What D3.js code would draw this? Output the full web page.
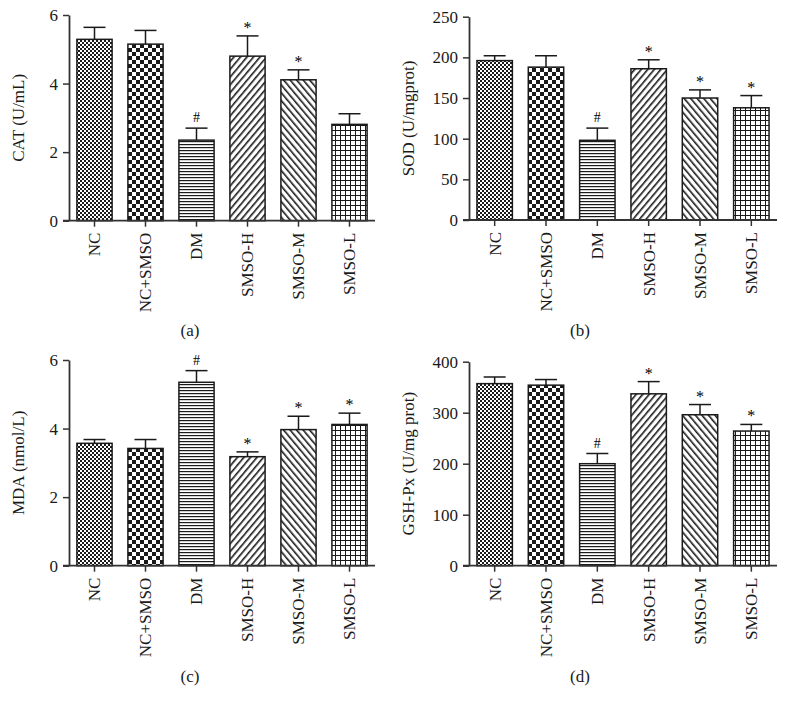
<!DOCTYPE html>
<html><head><meta charset="utf-8">
<script src="https://cdn.jsdelivr.net/npm/d3@7"></script>
<style>body{margin:0;background:#fff}svg{display:block}</style>
</head><body>
<svg id="c" width="786" height="709"></svg>
<script>
const categories = ["NC","NC+SMSO","DM","SMSO-H","SMSO-M","SMSO-L"];
const catMeans  = [5.29,5.15,2.35,4.80,4.11,2.81];
const catErrTop = [5.64,5.55,2.70,5.39,4.40,3.12];
const catMarks  = ["","","#","*","*",""];
const sodMeans  = [196,188,98,186,150,138];
const sodErrTop = [202,202,113,197,160,153];
const sodMarks  = ["","","#","*","*","*"];
const mdaMeans  = [3.57,3.42,5.35,3.18,3.97,4.12];
const mdaErrTop = [3.68,3.68,5.69,3.32,4.36,4.45];
const mdaMarks  = ["","","#","*","*","*"];
const gshMeans  = [357,354,200,337,296,264];
const gshErrTop = [370,365,220,361,316,277];
const gshMarks  = ["","","#","*","*","*"];
const catTicks = [0,2,4,6];
const sodTicks = [0,50,100,150,200,250];
const mdaTicks = [0,2,4,6];
const gshTicks = [0,100,200,300,400];

const svg = d3.select("#c");
const ink = "#1a1a1a";
const font = "'Liberation Serif','Times New Roman',serif";
const fs = 17;

// patterns
const defs = svg.append("defs");
function pat(id, w, h, build, transform){
  const p = defs.append("pattern").attr("id",id).attr("patternUnits","userSpaceOnUse")
    .attr("width",w).attr("height",h);
  if(transform) p.attr("patternTransform",transform);
  p.append("rect").attr("width",w).attr("height",h).attr("fill","#fff");
  build(p);
}
pat("pNC",4,4,p=>{p.append("rect").attr("width",2).attr("height",2).attr("fill",ink);
  p.append("rect").attr("x",2).attr("y",2).attr("width",2).attr("height",2).attr("fill",ink);});
pat("pNCS",8,8,p=>{p.append("rect").attr("width",4).attr("height",4).attr("fill",ink);
  p.append("rect").attr("x",4).attr("y",4).attr("width",4).attr("height",4).attr("fill",ink);});
pat("pDM",3,3,p=>{p.append("rect").attr("y",0).attr("width",3).attr("height",1.2).attr("fill",ink);});
pat("pH",5,5,p=>{p.append("rect").attr("width",1.6).attr("height",5).attr("fill",ink);},"rotate(40)");
pat("pM",5,5,p=>{p.append("rect").attr("width",1.6).attr("height",5).attr("fill",ink);},"rotate(-40)");
pat("pL",5,5,p=>{p.append("rect").attr("width",5).attr("height",1).attr("fill",ink);
  p.append("rect").attr("width",1).attr("height",5).attr("fill",ink);});
const fills = ["url(#pNC)","url(#pNCS)","url(#pDM)","url(#pH)","url(#pM)","url(#pL)"];

const panels = [
  {x0:69,x1:375,yTop:15,yBot:220.7,max:6,ticks:catTicks,means:catMeans,err:catErrTop,marks:catMarks,label:"CAT (U/mL)",lx:18,tag:"(a)",tx:190,ty:336},
  {x0:469,x1:777,yTop:16.7,yBot:220,max:250,ticks:sodTicks,means:sodMeans,err:sodErrTop,marks:sodMarks,label:"SOD (U/mgprot)",lx:408,tag:"(b)",tx:580,ty:336},
  {x0:69,x1:375,yTop:360,yBot:565.7,max:6,ticks:mdaTicks,means:mdaMeans,err:mdaErrTop,marks:mdaMarks,label:"MDA (nmol/L)",lx:18,tag:"(c)",tx:190,ty:682},
  {x0:469,x1:777,yTop:361.7,yBot:565.7,max:400,ticks:gshTicks,means:gshMeans,err:gshErrTop,marks:gshMarks,label:"GSH-Px (U/mg prot)",lx:408,tag:"(d)",tx:580,ty:682}
];

panels.forEach(P=>{
  const g = svg.append("g");
  const x = d3.scaleBand().domain(categories).range([P.x0,P.x1]).paddingInner(0.31).paddingOuter(0.155);
  const y = d3.scaleLinear().domain([0,P.max]).range([P.yBot,P.yTop]);
  const data = categories.map((c,i)=>({c,i,m:P.means[i],e:P.err[i],k:P.marks[i]}));

  // bars
  g.selectAll("rect.bar").data(data).join("rect").attr("class","bar")
    .attr("x",d=>x(d.c)).attr("width",x.bandwidth())
    .attr("y",d=>y(d.m)).attr("height",d=>y(0)-y(d.m))
    .attr("fill",d=>fills[d.i]).attr("stroke",ink).attr("stroke-width",1.5);
  // error bars
  const cx = d=>x(d.c)+x.bandwidth()/2;
  g.selectAll("line.ev").data(data).join("line").attr("class","ev")
    .attr("x1",cx).attr("x2",cx).attr("y1",d=>y(d.m)).attr("y2",d=>y(d.e))
    .attr("stroke",ink).attr("stroke-width",1.5);
  g.selectAll("line.ec").data(data).join("line").attr("class","ec")
    .attr("x1",d=>cx(d)-11).attr("x2",d=>cx(d)+11).attr("y1",d=>y(d.e)).attr("y2",d=>y(d.e))
    .attr("stroke",ink).attr("stroke-width",1.5);
  // marks
  g.selectAll("text.mk").data(data.filter(d=>d.k)).join("text").attr("class","mk")
    .attr("x",cx).attr("y",d=>y(d.e)-(d.k==="#"?6:3))
    .attr("text-anchor","middle").attr("font-family",font).attr("font-size",d=>d.k==="#"?14:16)
    .attr("fill","#000").text(d=>d.k);

  // y axis
  const ya = g.append("g").attr("transform",`translate(${P.x0},0)`)
    .call(d3.axisLeft(y).tickValues(P.ticks).tickFormat(d3.format("d")).tickSize(6).tickSizeOuter(0).tickPadding(5));
  ya.select(".domain").attr("stroke","#333").attr("stroke-width",1.8);
  ya.selectAll(".tick line").attr("stroke","#333").attr("stroke-width",1.5);
  ya.selectAll(".tick text").attr("font-family",font).attr("font-size",fs).attr("fill",ink);

  // x axis
  const xa = g.append("g").attr("transform",`translate(0,${P.yBot})`)
    .call(d3.axisBottom(x).tickSize(6).tickSizeOuter(0).tickPadding(0));
  xa.select(".domain").attr("d",`M${P.x0-6},0H${P.x1}`).attr("stroke","#333").attr("stroke-width",1.8);
  xa.selectAll(".tick line").attr("stroke","#333").attr("stroke-width",1.5);
  xa.selectAll(".tick text").attr("font-family",font).attr("font-size",fs).attr("fill",ink)
    .attr("text-anchor","end").attr("transform","translate(0,12) rotate(-90)")
    .attr("x",0).attr("y",0).attr("dy","0.35em");

  // y label
  g.append("text").attr("transform",`translate(${P.lx},${(P.yTop+P.yBot)/2}) rotate(-90)`)
    .attr("text-anchor","middle").attr("dy","0.35em").attr("font-family",font).attr("font-size",fs)
    .attr("fill",ink).text(P.label);
  // panel tag
  g.append("text").attr("x",P.tx).attr("y",P.ty).attr("text-anchor","middle")
    .attr("font-family",font).attr("font-size",fs).attr("fill",ink).text(P.tag);
});
</script>
</body></html>
